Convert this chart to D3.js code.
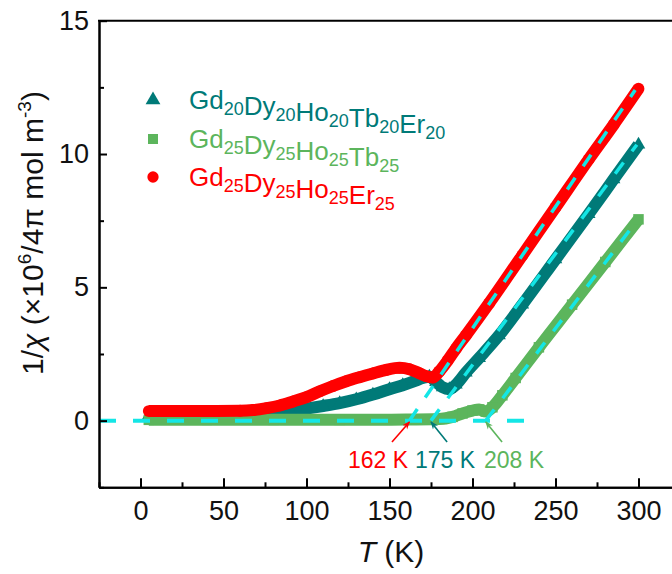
<!DOCTYPE html>
<html>
<head>
<meta charset="utf-8">
<script src="https://cdn.jsdelivr.net/npm/d3@7"></script>
<style>
  body { margin: 0; background: #fff; }
  svg { font-family: "Liberation Sans", Arial, sans-serif; }
</style>
</head>
<body>
<div id="chart"></div>
<script>
// chart size
var svgWidth = 672;
var svgHeight = 574;

// Data (T in K, 1/chi)
var tealT = [5, 30, 60, 76, 90, 100, 110, 120, 130, 140, 150, 158, 165, 170, 174, 178, 182, 186, 190, 196, 204, 216, 230, 250, 270, 285, 300];
var tealV = [0.2, 0.2, 0.22, 0.28, 0.36, 0.45, 0.55, 0.66, 0.8, 0.98, 1.18, 1.33, 1.48, 1.6, 1.65, 1.45, 1.25, 1.18, 1.35, 1.8, 2.35, 3.2, 4.35, 6.05, 7.75, 9.05, 10.35];

var greenT = [5, 40, 80, 120, 160, 180, 188, 194, 200, 204, 208, 212, 218, 226, 240, 260, 280, 300];
var greenV = [0.03, 0.03, 0.03, 0.03, 0.04, 0.06, 0.14, 0.27, 0.38, 0.42, 0.34, 0.5, 0.95, 1.6, 2.75, 4.35, 5.95, 7.55];

var redT = [5, 20, 40, 60, 68, 76, 84, 92, 100, 108, 116, 124, 132, 140, 148, 156, 162, 168, 172, 176, 180, 185, 190, 196, 210, 230, 250, 270, 285, 300];
var redV = [0.36, 0.36, 0.36, 0.37, 0.4, 0.47, 0.57, 0.72, 0.88, 1.1, 1.3, 1.48, 1.63, 1.77, 1.9, 1.98, 1.93, 1.78, 1.67, 1.62, 1.85, 2.25, 2.7, 3.2, 4.4, 6.2, 8.0, 9.8, 11.1, 12.45];

// Curie-Weiss fits (start T, end T, end value)
var fitNames = ["teal", "green", "red"];
var fitStart = [175, 208, 162];
var fitEndT = [299, 299, 298];
var fitEndV = [10.35, 7.5, 12.4];

// transition temperatures
var transT = [162, 175, 208];
var transLabels = ["162 K", "175 K", "208 K"];

var xTicks = [0, 50, 100, 150, 200, 250, 300];
var yTicks = [0, 5, 10, 15];

var colors = { teal: "#007a78", green: "#5cb55c", red: "#ff0000" };
var cyan = "#14e6e6";

var svg = d3.select("#chart")
  .append("svg")
  .attr("width", svgWidth)
  .attr("height", svgHeight);

// Scales
var xScale = d3.scaleLinear().domain([-25, 325]).range([99, 680]);
var yScale = d3.scaleLinear().domain([-2.5, 15]).range([487.3, 20.7]);

// Series data
function zip(ts, vs) { return ts.map(function(t, i) { return { t: t, v: vs[i] }; }); }
var series = [
  { key: "teal", data: zip(tealT, tealV), symbol: d3.symbolTriangle, size: 80 },
  { key: "green", data: zip(greenT, greenV), symbol: d3.symbolSquare, size: 110 },
  { key: "red", data: zip(redT, redV), symbol: d3.symbolCircle, size: 110 }
];

var plot = svg.append("g");
var band = d3.line().x(d => xScale(d.t)).y(d => yScale(d.v)).curve(d3.curveMonotoneX);

series.forEach(function(s) {
  plot.append("path")
    .datum(s.data)
    .attr("d", band)
    .attr("fill", "none")
    .attr("stroke", colors[s.key])
    .attr("stroke-width", 12)
    .attr("stroke-linejoin", "round");

  plot.selectAll(".m-" + s.key)
    .data(s.data)
    .enter()
    .append("path")
    .attr("class", "m-" + s.key)
    .attr("transform", d => `translate(${xScale(d.t)},${yScale(d.v)})`)
    .attr("d", d3.symbol().type(s.symbol).size(s.size))
    .attr("fill", colors[s.key]);
});

// Dashed fit lines
plot.append("line")
  .attr("x1", xScale(-25)).attr("x2", xScale(238))
  .attr("y1", yScale(0)).attr("y2", yScale(0))
  .attr("stroke", cyan).attr("stroke-width", 4).attr("stroke-dasharray", "17,17");

fitNames.forEach(function(n, i) {
  plot.append("line")
    .attr("x1", xScale(fitStart[i])).attr("y1", yScale(0))
    .attr("x2", xScale(fitEndT[i])).attr("y2", yScale(fitEndV[i]))
    .attr("stroke", cyan).attr("stroke-width", 3.5).attr("stroke-dasharray", "14,14");
});

// Arrows + labels for transitions
var arrowColors = [colors.red, colors.teal, colors.green];
var tailT = [151.5, 184.7, 217.8];
var defs = svg.append("defs");
arrowColors.forEach(function(c, i) {
  defs.append("marker")
    .attr("id", "arrow" + i)
    .attr("viewBox", "0 0 10 10")
    .attr("refX", 9).attr("refY", 5)
    .attr("markerWidth", 5).attr("markerHeight", 5)
    .attr("orient", "auto")
    .append("path")
    .attr("d", "M0,1 L10,5 L0,9 L3,5 Z")
    .attr("fill", c);

  svg.append("line")
    .attr("x1", xScale(tailT[i])).attr("y1", yScale(-0.8))
    .attr("x2", xScale(transT[i])).attr("y2", yScale(-0.05))
    .attr("stroke", c).attr("stroke-width", 1.6)
    .attr("marker-end", "url(#arrow" + i + ")");
});

var labelX = [378, 445, 514];
transLabels.forEach(function(l, i) {
  svg.append("text")
    .attr("x", labelX[i]).attr("y", 468)
    .attr("text-anchor", "middle")
    .attr("font-size", 23)
    .attr("fill", arrowColors[i])
    .text(l);
});

// Axes
var bottomAxis = d3.axisBottom(xScale).tickValues(xTicks).tickSizeInner(-9).tickSizeOuter(0).tickPadding(14);
var bottomMinor = d3.axisBottom(xScale).tickValues([-25, 25, 75, 125, 175, 225, 275, 325]).tickSizeInner(-5).tickSizeOuter(0).tickFormat("");
var leftAxis = d3.axisLeft(yScale).tickValues(yTicks).tickSizeInner(-8).tickSizeOuter(0).tickPadding(10);
var leftMinor = d3.axisLeft(yScale).tickValues([-2.5, 2.5, 7.5, 12.5]).tickSizeInner(-5).tickSizeOuter(0).tickFormat("");

function styleAxis(g) {
  g.selectAll("path, line").attr("stroke", "#000").attr("stroke-width", 2);
  g.selectAll("text").attr("font-size", 27).attr("fill", "#111").attr("font-family", "Liberation Sans, Arial, sans-serif");
}

svg.append("g").attr("transform", `translate(0,${yScale(-2.5)})`).call(bottomMinor).call(styleAxis);
svg.append("g").attr("transform", `translate(0,${yScale(-2.5)})`).call(bottomAxis).call(styleAxis);
svg.append("g").attr("transform", `translate(${xScale(-25)},0)`).call(leftMinor).call(styleAxis);
svg.append("g").attr("transform", `translate(${xScale(-25)},0)`).call(leftAxis).call(styleAxis);

// top frame line
svg.append("line")
  .attr("x1", xScale(-25) - 1).attr("x2", xScale(325))
  .attr("y1", yScale(15)).attr("y2", yScale(15))
  .attr("stroke", "#000").attr("stroke-width", 2);

// Axis titles
var xTitle = svg.append("text")
  .attr("x", 391).attr("y", 562)
  .attr("text-anchor", "middle")
  .attr("font-size", 30)
  .attr("fill", "#111");
xTitle.append("tspan").attr("font-style", "italic").text("T");
xTitle.append("tspan").text(" (K)");

var yTitle = svg.append("text")
  .attr("transform", "translate(43,233) rotate(-90)")
  .attr("text-anchor", "middle")
  .attr("font-size", 30)
  .attr("fill", "#111");
yTitle.append("tspan").text("1/");
yTitle.append("tspan").attr("font-style", "italic").text("χ");
yTitle.append("tspan").text(" (×10");
yTitle.append("tspan").attr("font-size", 19).attr("dy", -12).text("6");
yTitle.append("tspan").attr("dy", 12).text("/4π mol m");
yTitle.append("tspan").attr("font-size", 19).attr("dy", -12).text("-3");
yTitle.append("tspan").attr("dy", 12).text(")");

// Legend
var legendNames = [
  [["Gd", "20"], ["Dy", "20"], ["Ho", "20"], ["Tb", "20"], ["Er", "20"]],
  [["Gd", "25"], ["Dy", "25"], ["Ho", "25"], ["Tb", "25"]],
  [["Gd", "25"], ["Dy", "25"], ["Ho", "25"], ["Er", "25"]]
];
var legendY = [100, 139, 177];
var legendSymbols = [
  { type: d3.symbolTriangle, size: 95, color: colors.teal },
  { type: d3.symbolSquare, size: 100, color: colors.green },
  { type: d3.symbolCircle, size: 100, color: colors.red }
];

legendNames.forEach(function(parts, i) {
  svg.append("path")
    .attr("transform", `translate(153,${legendY[i]})`)
    .attr("d", d3.symbol().type(legendSymbols[i].type).size(legendSymbols[i].size))
    .attr("fill", legendSymbols[i].color);

  var t = svg.append("text")
    .attr("x", 189).attr("y", legendY[i] + 9)
    .attr("font-size", 26)
    .attr("fill", legendSymbols[i].color);
  parts.forEach(function(p) {
    t.append("tspan").text(p[0]);
    t.append("tspan").attr("font-size", 18).attr("dy", 6).text(p[1]);
    t.append("tspan").attr("dy", -6).text("");
  });
});
</script>
</body>
</html>
